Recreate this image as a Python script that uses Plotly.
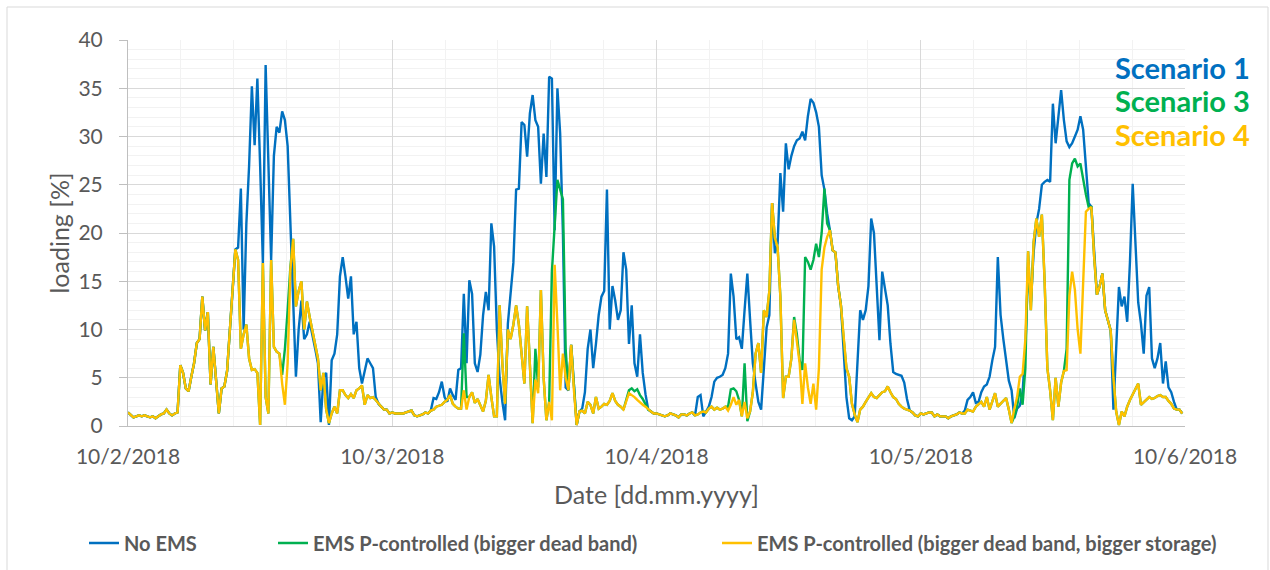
import pandas as pd
import plotly.graph_objects as go

# ---------------- data (15-minute loading values, 10/2/2018 00:00 .. 10/5/2018 23:45) ----------------
START = "2018-10-02 00:00"
STEP = "15min"

no_ems = [
    # 10/2
    1.4, 1.1, 0.9, 1.0, 1.1, 1.0, 1.1, 1.0, 0.9, 1.0, 0.8, 1.0, 1.2, 1.3, 1.7, 1.3, 1.1, 1.3, 1.4, 6.3,
    5.5, 3.9, 3.6, 5.1, 6.5, 8.6, 9.0, 13.4, 9.9, 11.8, 4.3, 8.2, 4.8, 1.3, 3.9, 4.1, 5.7, 10.0, 13.5, 18.3,
    18.5, 24.6, 10.0, 21.0, 27.0, 35.2, 29.1, 36.0, 27.0, 16.9, 37.4, 27.0, 17.2, 28.0, 31.0, 30.4, 32.6, 31.7, 29.0, 21.0,
    12.0, 5.1, 10.0, 13.0, 9.0, 9.5, 10.8, 9.5, 8.0, 6.5, 0.4, 5.0, 5.5, 0.1, 6.8, 7.5, 9.5, 15.5, 17.5, 15.5,
    13.2, 15.5, 9.5, 10.8, 6.0, 4.4, 5.8, 7.0, 6.5, 6.0, 3.0, 2.3, 2.0, 1.7, 1.7, 1.3,
    # 10/3
    1.4, 1.3, 1.3, 1.3, 1.3, 1.4, 1.5, 1.6, 1.1, 1.0, 1.1, 1.2, 1.4, 1.3, 1.6, 2.9, 2.8, 3.5, 4.6, 3.0,
    2.5, 3.9, 3.2, 2.7, 5.8, 6.0, 13.7, 6.5, 15.1, 13.7, 6.5, 5.6, 7.4, 11.5, 13.9, 12.0, 21.0, 18.6, 10.0, 5.0,
    2.5, 0.6, 10.6, 13.7, 16.9, 24.5, 24.6, 31.5, 31.2, 27.9, 32.4, 34.3, 31.7, 31.0, 25.1, 30.3, 25.8, 36.2, 36.0, 20.3,
    35.0, 30.3, 20.0, 4.0, 3.7, 8.4, 3.7, 0.1, 1.5, 1.8, 3.5, 8.0, 10.0, 6.0, 8.5, 11.5, 13.4, 14.0, 24.5, 10.0,
    14.5, 13.0, 11.0, 12.0, 18.0, 16.2, 8.5, 12.5, 6.5, 5.1, 9.5, 5.5, 3.3, 1.7, 1.5, 1.3,
    # 10/4
    1.3, 1.2, 1.1, 1.0, 1.1, 1.3, 1.2, 1.1, 0.9, 1.2, 1.2, 1.1, 1.3, 1.4, 1.1, 3.0, 3.2, 1.0, 1.5, 2.0,
    3.0, 4.6, 5.0, 5.1, 5.3, 6.0, 7.5, 15.8, 13.4, 9.0, 9.2, 8.0, 12.0, 15.8, 11.0, 6.5, 4.4, 2.5, 1.7, 6.0,
    10.2, 11.5, 23.1, 17.9, 18.9, 26.2, 22.2, 29.3, 26.6, 28.0, 29.0, 29.6, 29.8, 30.5, 29.6, 32.1, 33.9, 33.5, 32.5, 31.0,
    26.0, 24.5, 22.0, 20.3, 18.2, 18.0, 14.5, 12.5, 7.0, 3.0, 0.8, 0.6, 1.0, 7.0, 12.0, 11.0, 12.0, 14.5, 21.5, 20.0,
    14.0, 8.9, 16.0, 14.0, 12.5, 8.5, 5.6, 5.4, 5.3, 5.2, 4.5, 2.8, 1.6, 1.4, 1.1, 1.0,
    # 10/5
    1.3, 1.2, 1.3, 1.4, 1.4, 1.0, 1.2, 1.0, 1.0, 1.0, 0.8, 1.0, 1.1, 1.2, 1.4, 1.3, 1.6, 2.7, 3.0, 3.5,
    2.4, 2.5, 3.5, 4.1, 4.3, 5.1, 6.8, 8.2, 17.5, 11.5, 9.0, 7.0, 4.7, 3.7, 0.8, 1.8, 2.1, 3.5, 8.0, 16.5,
    12.8, 18.0, 21.0, 22.5, 25.0, 25.3, 25.5, 25.3, 33.4, 29.3, 32.0, 34.8, 31.7, 29.5, 28.9, 29.3, 30.0, 30.7, 32.1, 30.7,
    26.9, 23.1, 22.7, 17.5, 13.6, 14.5, 15.8, 12.0, 11.0, 9.9, 1.7, 8.0, 14.4, 12.4, 13.4, 10.8, 17.0, 25.1, 18.0, 12.8,
    10.6, 7.5, 13.5, 14.4, 7.0, 6.0, 7.0, 8.6, 4.4, 6.7, 4.0, 3.5, 2.5, 1.7, 1.7, 1.3,
]

ems_dead_band = [
    # 10/2
    1.4, 1.1, 0.9, 1.0, 1.1, 1.0, 1.1, 1.0, 0.9, 1.0, 0.8, 1.0, 1.2, 1.3, 1.7, 1.3, 1.1, 1.3, 1.4, 6.3,
    5.5, 3.9, 3.6, 5.1, 6.5, 8.6, 9.0, 13.4, 9.9, 11.8, 4.3, 8.2, 4.8, 1.3, 3.9, 4.1, 5.7, 10.0, 13.5, 18.3,
    17.2, 8.0, 9.5, 10.5, 7.0, 5.8, 5.9, 5.5, 0.1, 16.9, 3.0, 1.3, 17.2, 8.2, 7.7, 7.5, 5.3, 8.0, 12.0, 16.5,
    19.4, 12.4, 14.0, 15.0, 10.0, 12.9, 11.3, 9.9, 8.2, 7.0, 3.7, 5.5, 1.7, 0.3, 1.3, 2.0, 1.3, 3.7, 3.7, 3.2,
    2.9, 3.3, 2.9, 3.7, 3.9, 4.2, 2.2, 3.2, 2.9, 3.0, 2.7, 2.3, 2.0, 1.7, 1.7, 1.3,
    # 10/3
    1.4, 1.3, 1.3, 1.3, 1.3, 1.4, 1.5, 1.6, 1.1, 1.0, 1.1, 1.2, 1.4, 1.3, 1.6, 1.7, 2.0, 2.1, 2.2, 2.5,
    2.7, 3.2, 2.3, 2.0, 1.8, 1.8, 9.6, 3.0, 3.0, 3.5, 2.4, 2.8, 2.2, 1.5, 2.6, 5.3, 3.0, 1.0, 1.0, 12.5,
    6.5, 2.3, 10.0, 9.0, 10.5, 12.5, 10.5, 7.0, 4.4, 12.4, 6.0, 0.3, 8.0, 4.0, 14.1, 5.0, 0.6, 2.5, 16.0, 20.3,
    25.5, 24.5, 23.5, 8.0, 3.7, 8.4, 3.7, 0.1, 1.5, 1.6, 1.3, 2.5, 2.2, 1.3, 3.0, 1.8, 2.0, 2.3, 2.2, 2.6,
    3.4, 2.6, 2.2, 2.0, 1.7, 2.6, 3.7, 3.9, 3.6, 3.8, 3.2, 2.8, 2.3, 1.7, 1.5, 1.3,
    # 10/4
    1.3, 1.2, 1.1, 1.0, 1.1, 1.3, 1.2, 1.1, 0.9, 1.2, 1.2, 1.1, 1.3, 1.4, 1.1, 1.2, 1.4, 1.5, 1.4, 1.8,
    2.0, 1.7, 1.9, 1.7, 1.8, 2.0, 2.0, 3.8, 3.9, 3.6, 2.7, 1.0, 6.5, 0.5, 1.5, 3.5, 7.5, 8.6, 5.5, 12.0,
    11.3, 14.0, 23.1, 19.5, 18.5, 13.4, 2.9, 5.1, 5.1, 7.0, 11.3, 9.5, 6.8, 5.8, 17.5, 17.0, 16.2, 17.2, 18.9, 17.5,
    20.0, 24.6, 21.0, 20.3, 18.2, 18.0, 14.5, 12.5, 9.0, 6.0, 5.1, 2.3, 1.2, 0.4, 1.7, 2.0, 2.5, 2.9, 3.4, 3.0,
    2.9, 3.2, 3.5, 3.6, 4.1, 3.5, 3.0, 2.8, 2.3, 2.0, 1.8, 1.7, 1.6, 1.4, 1.1, 1.0,
    # 10/5
    1.3, 1.2, 1.3, 1.4, 1.4, 1.0, 1.2, 1.0, 1.0, 1.0, 0.8, 1.0, 1.1, 1.2, 1.4, 1.3, 1.3, 1.7, 1.6, 1.5,
    2.0, 2.3, 2.5, 2.0, 3.0, 1.7, 2.5, 3.4, 2.0, 2.3, 2.6, 2.9, 1.7, 0.3, 1.0, 2.0, 3.9, 2.2, 6.0, 18.1,
    12.0, 19.0, 21.5, 19.6, 21.9, 15.0, 6.0, 3.7, 0.6, 5.0, 2.0, 4.5, 5.7, 8.0, 25.5, 27.2, 27.7, 26.9, 27.2, 25.5,
    24.0, 22.7, 22.7, 17.5, 13.6, 14.5, 15.8, 12.0, 11.0, 9.9, 5.0, 1.5, 0.1, 1.5, 1.0, 2.0, 2.7, 3.3, 3.9, 4.4,
    2.2, 2.5, 2.8, 3.0, 2.8, 2.9, 3.1, 3.2, 3.0, 3.0, 2.6, 2.3, 1.8, 1.7, 1.7, 1.3,
]

ems_dead_band_storage = [
    # 10/2
    1.4, 1.1, 0.9, 1.0, 1.1, 1.0, 1.1, 1.0, 0.9, 1.0, 0.8, 1.0, 1.2, 1.3, 1.7, 1.3, 1.1, 1.3, 1.4, 6.3,
    5.5, 3.9, 3.6, 5.1, 6.5, 8.6, 9.0, 13.4, 9.9, 11.8, 4.3, 8.2, 4.8, 1.3, 3.9, 4.1, 5.7, 10.0, 13.5, 18.3,
    17.2, 8.0, 9.5, 10.5, 7.0, 5.8, 5.9, 5.5, 0.1, 16.9, 3.0, 1.3, 17.2, 8.2, 7.7, 7.5, 4.4, 2.2, 6.5, 16.2,
    19.4, 12.4, 14.0, 15.0, 10.0, 12.9, 11.3, 9.9, 8.2, 7.0, 3.7, 5.5, 1.7, 0.3, 1.3, 2.0, 1.3, 3.7, 3.7, 3.2,
    2.9, 3.3, 2.9, 3.7, 3.9, 4.2, 2.2, 3.2, 2.9, 3.0, 2.7, 2.3, 2.0, 1.7, 1.7, 1.3,
    # 10/3
    1.4, 1.3, 1.3, 1.3, 1.3, 1.4, 1.5, 1.6, 1.1, 1.0, 1.1, 1.2, 1.4, 1.3, 1.6, 1.7, 2.0, 2.1, 2.2, 2.5,
    2.7, 3.2, 2.3, 2.0, 1.8, 1.8, 3.7, 1.7, 3.0, 3.5, 2.4, 2.8, 2.2, 1.5, 2.6, 5.3, 3.0, 1.0, 1.0, 12.5,
    6.5, 2.3, 10.0, 9.0, 10.5, 12.5, 10.5, 7.0, 4.4, 12.4, 6.0, 0.3, 4.8, 3.4, 14.1, 5.0, 0.6, 2.5, 0.6, 16.7,
    10.6, 3.7, 7.5, 5.0, 3.7, 8.4, 3.7, 0.1, 1.5, 1.6, 1.3, 2.5, 2.2, 1.3, 3.0, 1.8, 2.0, 2.3, 2.2, 2.6,
    3.4, 2.6, 2.2, 2.0, 1.7, 2.6, 3.4, 3.2, 3.0, 2.7, 2.4, 2.2, 2.0, 1.7, 1.5, 1.3,
    # 10/4
    1.3, 1.2, 1.1, 1.0, 1.1, 1.3, 1.2, 1.1, 0.9, 1.2, 1.2, 1.1, 1.3, 1.4, 1.1, 1.2, 1.4, 1.5, 1.4, 1.8,
    2.0, 1.7, 1.9, 1.7, 1.8, 2.0, 1.6, 2.2, 3.0, 2.2, 2.7, 1.0, 2.5, 0.8, 1.5, 3.5, 7.5, 8.6, 5.5, 12.0,
    11.3, 14.0, 23.1, 19.5, 18.5, 13.4, 2.9, 5.1, 5.1, 7.0, 11.0, 9.0, 6.5, 2.3, 6.5, 4.0, 2.3, 4.4, 1.7, 6.0,
    16.2, 18.5, 19.6, 20.3, 18.2, 18.0, 14.5, 12.5, 9.0, 6.0, 5.1, 2.3, 1.2, 0.4, 1.7, 2.0, 2.5, 2.9, 3.4, 3.0,
    2.9, 3.2, 3.5, 3.6, 4.1, 3.5, 3.0, 2.8, 2.3, 2.0, 1.8, 1.7, 1.6, 1.4, 1.1, 1.0,
    # 10/5
    1.3, 1.2, 1.3, 1.4, 1.4, 1.0, 1.2, 1.0, 1.0, 1.0, 0.8, 1.0, 1.1, 1.2, 1.4, 1.3, 1.3, 1.7, 1.6, 1.5,
    2.0, 2.3, 2.5, 2.0, 3.0, 1.7, 2.5, 3.4, 2.0, 2.3, 2.6, 2.9, 1.7, 0.3, 1.8, 3.0, 5.1, 5.4, 9.0, 18.1,
    12.0, 19.0, 21.5, 19.6, 21.9, 15.0, 6.0, 3.7, 0.6, 5.0, 2.0, 4.5, 5.7, 5.8, 13.5, 16.0, 14.1, 10.0, 7.5, 14.0,
    22.2, 22.5, 22.7, 17.5, 13.6, 14.5, 15.8, 12.0, 11.0, 9.9, 5.0, 1.5, 0.1, 1.5, 1.0, 2.0, 2.7, 3.3, 3.9, 4.4,
    2.2, 2.5, 2.8, 3.0, 2.8, 2.9, 3.1, 3.2, 3.0, 3.0, 2.6, 2.3, 1.8, 1.7, 1.7, 1.3,
]

day_ticks = ["2018-10-02", "2018-10-03", "2018-10-04", "2018-10-05", "2018-10-06"]
day_labels = ["10/2/2018", "10/3/2018", "10/4/2018", "10/5/2018", "10/6/2018"]

series_names = [
    "No EMS",
    "EMS P-controlled (bigger dead band)",
    "EMS P-controlled (bigger dead band, bigger storage)",
]
series_colors = ["#0070C0", "#00B050", "#FFC000"]
scenario_labels = ["Scenario 1", "Scenario 3", "Scenario 4"]

# ---------------- figure ----------------
times = pd.date_range(START, periods=len(no_ems), freq=STEP)

FONT = "Lato"
TXT = "#595959"

fig = go.Figure()
legend_ids = ["legend", "legend2", "legend3"]
for vals, name, col, lg in zip([no_ems, ems_dead_band, ems_dead_band_storage],
                               series_names, series_colors, legend_ids):
    fig.add_trace(go.Scatter(x=times, y=vals, mode="lines", name=name, showlegend=True,
                             line=dict(color=col, width=2.4), legend=lg))

# plot area in pixels: x 128..1185, y 40..426
L, R, T, B = 128, 1185, 40, 426
W, H = R - L, B - T

def px(xp):
    return (xp - L) / W

def py(yp):
    return (B - yp) / H

leg_common = dict(orientation="h", yanchor="middle", xanchor="left", visible=True,
                  font=dict(family=FONT, size=20, color=TXT, weight="bold"),
                  bgcolor="rgba(0,0,0,0)", borderwidth=0)

fig.update_layout(
    width=1270, height=570, showlegend=True,
    margin=dict(l=L, r=1270 - R, t=T, b=570 - B, autoexpand=False),
    paper_bgcolor="white", plot_bgcolor="white",
    font=dict(family=FONT, color=TXT),
    legend=dict(x=px(84), y=py(543), **leg_common),
    legend2=dict(x=px(273), y=py(543), **leg_common),
    legend3=dict(x=px(717), y=py(543), **leg_common),
    xaxis=dict(
        type="date", range=[day_ticks[0], day_ticks[-1]],
        tickmode="array", tickvals=day_ticks, ticktext=day_labels,
        showgrid=True, gridcolor="#D9D9D9", gridwidth=1,
        minor=dict(dtick=4.8 * 3600 * 1000, tick0=day_ticks[0], showgrid=True,
                   gridcolor="#F2F2F2", gridwidth=1),
        showline=True, linecolor="#BFBFBF", linewidth=1,
        ticks="", ticklabelstandoff=12,
        tickfont=dict(family=FONT, size=21, color=TXT),
        title=dict(text="Date [dd.mm.yyyy]", font=dict(family=FONT, size=25, color=TXT), standoff=19),
        zeroline=False,
    ),
    yaxis=dict(
        range=[0, 40], tick0=0, dtick=5,
        showgrid=True, gridcolor="#D9D9D9", gridwidth=1,
        minor=dict(dtick=1, showgrid=True, gridcolor="#F2F2F2", gridwidth=1),
        showline=True, linecolor="#BFBFBF", linewidth=1,
        ticks="outside", ticklen=8, tickcolor="#BFBFBF", ticklabelstandoff=12,
        tickfont=dict(family=FONT, size=21, color=TXT),
        title=dict(text="loading [%]", font=dict(family=FONT, size=25, color=TXT), standoff=1),
        zeroline=False,
    ),
)

for i, (lab, col) in enumerate(zip(scenario_labels, series_colors)):
    fig.add_annotation(text=f"<b>{lab}</b>", xref="paper", yref="paper",
                       x=px(1113), y=py(67 + 33.5 * i), xanchor="left", yanchor="middle",
                       showarrow=False, font=dict(family=FONT, size=29, color=col))

# outer chart border
fig.add_shape(type="rect", xref="paper", yref="paper",
              x0=px(7), x1=px(1268), y0=py(580), y1=py(7),
              line=dict(color="#D9D9D9", width=1), layer="below")

# the page body has a default 8px margin; remove it so the figure sits at the window origin
fig.write_html("out.html", config={"displayModeBar": False},
               post_script="document.body.style.margin='0px';")
